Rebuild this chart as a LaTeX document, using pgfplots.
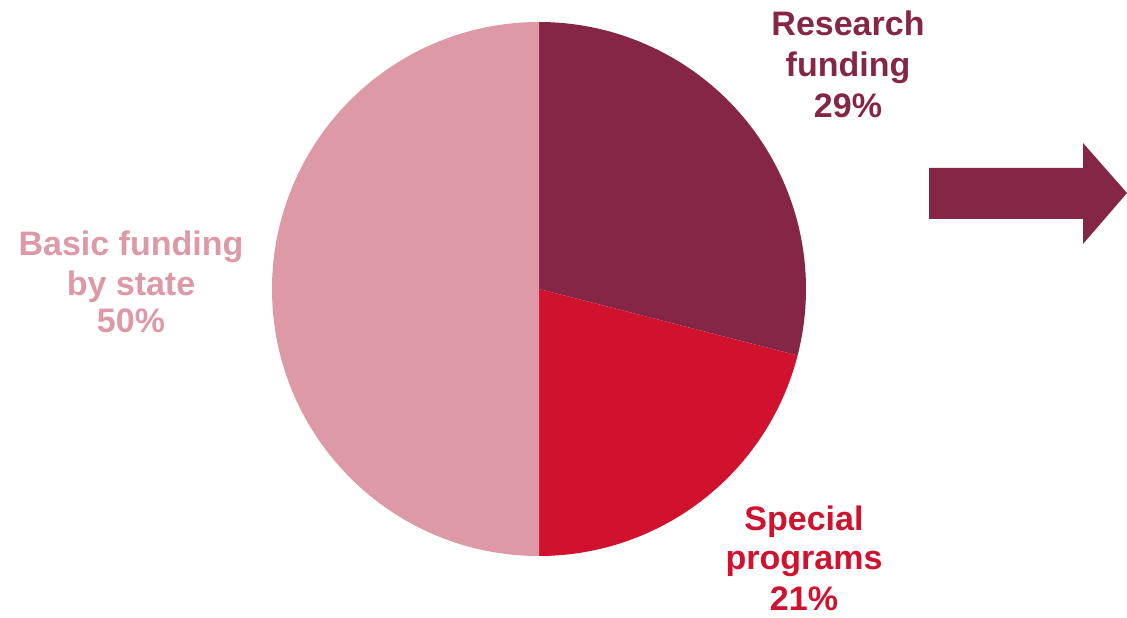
\documentclass[border=0pt]{standalone}
\usepackage{pgfplots}
\pgfplotsset{compat=1.18}
\usepackage{pgfplotstable}
\usepackage{fontspec}
\setmainfont{Liberation Sans}
\definecolor{research}{RGB}{134,38,70}
\definecolor{special}{RGB}{208,18,47}
\definecolor{basic}{RGB}{221,153,166}
\pgfplotstableread{
label value
Research 29
Special 21
Basic 50
}\piedata
\begin{document}
\begin{tikzpicture}
\pgfplotstablegetelem{0}{value}\of\piedata \pgfmathsetmacro{\va}{\pgfplotsretval}
\pgfplotstablegetelem{1}{value}\of\piedata \pgfmathsetmacro{\vb}{\pgfplotsretval}
\pgfplotstablegetelem{2}{value}\of\piedata \pgfmathsetmacro{\vc}{\pgfplotsretval}
\pgfmathsetmacro{\aA}{90}
\pgfmathsetmacro{\aB}{90-3.6*\va}
\pgfmathsetmacro{\aC}{\aB-3.6*\vb}
\pgfmathsetmacro{\aD}{\aC-3.6*\vc}
\begin{axis}[
  scale only axis, width=1127bp, height=617bp,
  xmin=0, xmax=1127, ymin=0, ymax=617,
  hide axis, clip=false,
]
\coordinate (bl) at (axis cs:0,0);
\coordinate (tr) at (axis cs:1127,617);
\fill[research] (axis cs:539,328) -- ++(\aA:267bp) arc[start angle=\aA, end angle=\aB, radius=267bp] -- cycle;
\fill[special] (axis cs:539,328) -- ++(\aB:267bp) arc[start angle=\aB, end angle=\aC, radius=267bp] -- cycle;
\fill[basic] (axis cs:539,328) -- ++(\aC:267bp) arc[start angle=\aC, end angle=\aD, radius=267bp] -- cycle;
\addplot[fill=research, draw=none] coordinates {(929,449) (1083,449) (1083,474) (1127,424) (1083,373) (1083,398) (929,398)} -- cycle;
\tikzset{lab/.style={anchor=base, inner sep=0pt, font=\fontsize{34bp}{40bp}\selectfont\bfseries}}
\node[lab, text=research] at (axis cs:848,581) {Research};
\node[lab, text=research] at (axis cs:848,540) {funding};
\node[lab, text=research] at (axis cs:848,499) {29\%};
\node[lab, text=basic] at (axis cs:131,361) {Basic funding};
\node[lab, text=basic] at (axis cs:131,321) {by state};
\node[lab, text=basic] at (axis cs:131,284) {50\%};
\node[lab, text=special] at (axis cs:804,87) {Special};
\node[lab, text=special] at (axis cs:804,48) {programs};
\node[lab, text=special] at (axis cs:804,7) {21\%};
\end{axis}
\pgfresetboundingbox
\path[use as bounding box] (bl) rectangle (tr);
\end{tikzpicture}
\end{document}
